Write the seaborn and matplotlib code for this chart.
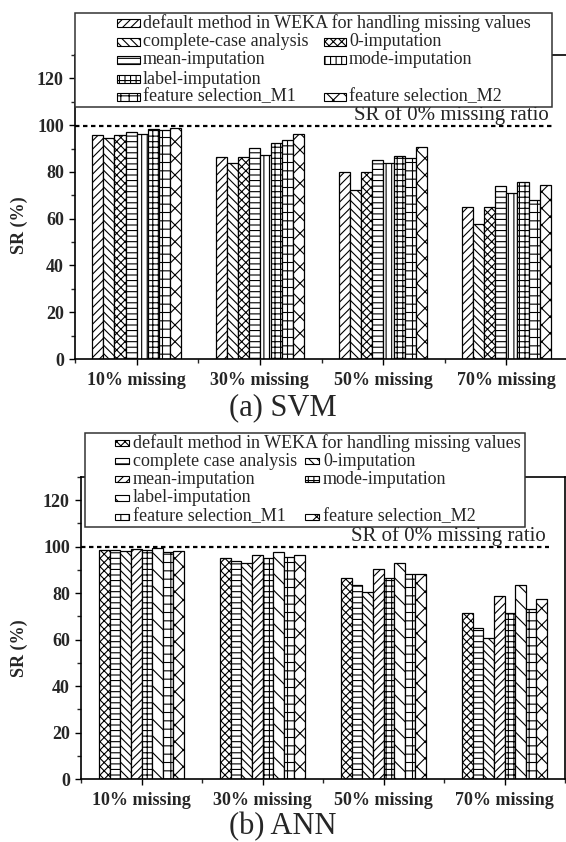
import numpy as np
import pandas as pd
import matplotlib
matplotlib.use("Agg")
import matplotlib.pyplot as plt
import seaborn as sns
from matplotlib.patches import Rectangle
from matplotlib.ticker import MultipleLocator

# ---------------- data ----------------
ratios = ["10% missing", "30% missing", "50% missing", "70% missing"]

svm_methods = ["default method in WEKA for handling missing values",
               "complete-case analysis", "0-imputation", "mean-imputation",
               "mode-imputation", "label-imputation",
               "feature selection_M1", "feature selection_M2"]
ann_methods = ["default method in WEKA for handling missing values",
               "complete case analysis", "0-imputation", "mean-imputation",
               "mode-imputation", "label-imputation",
               "feature selection_M1", "feature selection_M2"]

svm_default = [96.0, 86.4, 79.9, 65.0]
svm_complete = [94.6, 83.9, 72.1, 57.9]
svm_zero = [96.0, 86.4, 79.9, 65.0]
svm_mean = [97.2, 90.3, 85.0, 74.1]
svm_mode = [96.3, 87.4, 83.9, 71.0]
svm_label = [98.4, 92.4, 87.0, 75.7]
svm_m1 = [98.1, 93.6, 86.0, 68.1]
svm_m2 = [98.9, 96.3, 90.7, 74.4]

ann_default = [98.4, 95.0, 86.6, 71.4]
ann_complete = [98.4, 94.0, 83.3, 65.1]
ann_zero = [98.0, 93.1, 80.7, 60.6]
ann_mean = [99.1, 96.4, 90.3, 78.6]
ann_mode = [98.4, 95.0, 86.6, 71.4]
ann_label = [99.3, 97.6, 93.1, 83.4]
ann_m1 = [97.8, 95.7, 88.1, 73.2]
ann_m2 = [98.3, 96.4, 88.1, 77.4]

svm_ref = 99.5   # SR of 0% missing ratio
ann_ref = 99.7

svm_hatches = ["////", "\\\\\\\\", "xxxx", "---", "|||", "+++", "++", "xx"]
ann_hatches = ["xxxx", "---", "\\\\\\\\", "////", "+++", "\\\\", "++", "xx"]

# ---------------- style ----------------
sns.set_theme(style="ticks")
plt.rcParams["font.family"] = ["Liberation Serif", "DejaVu Serif"]
plt.rcParams["hatch.linewidth"] = 0.8
plt.rcParams["axes.linewidth"] = 1.2

W, H = 566, 842
fig = plt.figure(figsize=(W / 100, H / 100), dpi=100)
fig.patch.set_facecolor("white")


def fx(x):
    return x / W


def fy(y):
    return 1 - y / H


def panel(box, methods, values, hatches, width, ref, leg, caption, cap_y, ylab_xy):
    l, r, t, b = box
    ax = fig.add_axes([fx(l), fy(b), (r - l) / W, (b - t) / H])
    df = pd.DataFrame({
        "ratio": np.tile(ratios, len(methods)),
        "method": np.repeat(methods, len(ratios)),
        "sr": np.concatenate(values),
    })
    sns.barplot(data=df, x="ratio", y="sr", hue="method", order=ratios,
                hue_order=methods, palette=["white"] * len(methods),
                edgecolor="black", linewidth=0.9, width=width, gap=0,
                legend=False, ax=ax, saturation=1, errorbar=None)
    for cont, h in zip(ax.containers, hatches):
        for p in cont:
            p.set_hatch(h)
    ax.set_xlim(-0.5, 3.5)
    ax.set_ylim(0, 130)
    ax.set_xlabel("")
    ax.set_ylabel("SR (%)", fontsize=13, fontweight="bold")
    ax.yaxis.set_label_coords(*ylab_xy)
    ax.set_yticks([0, 20, 40, 60, 80, 100, 120])
    ax.yaxis.set_minor_locator(MultipleLocator(10))
    ax.set_xticks([-0.5, 0.5, 1.5, 2.5, 3.5], minor=True)
    ax.tick_params(which="major", direction="out", length=4.5, width=1,
                   labelsize=13, color="black")
    ax.tick_params(axis="y", which="major", pad=3.5)
    ax.tick_params(axis="x", which="major", pad=5)
    ax.tick_params(which="minor", direction="out", length=3, width=1)
    for lbl in ax.get_xticklabels() + ax.get_yticklabels():
        lbl.set_fontweight("bold")
    for s in ax.spines.values():
        s.set_visible(True)
        s.set_color("black")
    ax.set_facecolor("white")
    # reference line
    ax.hlines(ref, -0.5, 3.37, colors="black", linestyles=(0, (2.0, 1.6)),
              linewidth=1.6)
    ax.text(3.345, ref + 2.6, "SR of 0% missing ratio", ha="right",
            va="baseline", fontsize=15)
    # legend (Origin-style box)
    fl, fr, ft, fb = leg["frame"]
    fig.add_artist(Rectangle((fx(fl), fy(fb)), (fr - fl) / W, (fb - ft) / H,
                             transform=fig.transFigure, facecolor="white",
                             edgecolor="#333333", linewidth=1.1, zorder=5))
    rows = leg["rows"]
    layout = [(0, 0), (1, 0), (1, 1), (2, 0), (2, 1), (3, 0), (4, 0), (4, 1)]
    for (ri, ci), m, h in zip(layout, methods, hatches):
        sx0, sx1, tx = leg["cols"][ci]
        yc = rows[ri]
        sh = leg["sh"]
        fig.add_artist(Rectangle((fx(sx0), fy(yc + sh / 2)), (sx1 - sx0) / W, sh / H,
                                 transform=fig.transFigure, facecolor="white",
                                 edgecolor="black", linewidth=0.8, hatch=h,
                                 zorder=6))
        fig.text(fx(tx), fy(yc), m, ha="left", va="center", fontsize=13,
                 zorder=7)
    fig.text(fx(283), fy(cap_y), caption, ha="center", va="center", fontsize=22)
    return ax


panel((75, 568, 55, 359), svm_methods,
      [svm_default, svm_complete, svm_zero, svm_mean, svm_mode, svm_label, svm_m1, svm_m2],
      svm_hatches, 0.72, svm_ref,
      {"frame": (75, 552, 13, 107), "rows": [23, 42, 60, 79, 97],
       "cols": [(117, 140, 143), (324, 346, 349)], "sh": 7},
      "(a) SVM", 408, (-0.096, 0.44))

panel((81, 565, 477, 779), ann_methods,
      [ann_default, ann_complete, ann_zero, ann_mean, ann_mode, ann_label, ann_m1, ann_m2],
      ann_hatches, 0.70, ann_ref,
      {"frame": (85, 525, 433, 527), "rows": [443, 461, 479, 498, 517],
       "cols": [(115, 129, 133), (305, 319, 323)], "sh": 6},
      "(b) ANN", 827, (-0.11, 0.434))

fig.savefig("out.png", dpi=100, facecolor="white")
